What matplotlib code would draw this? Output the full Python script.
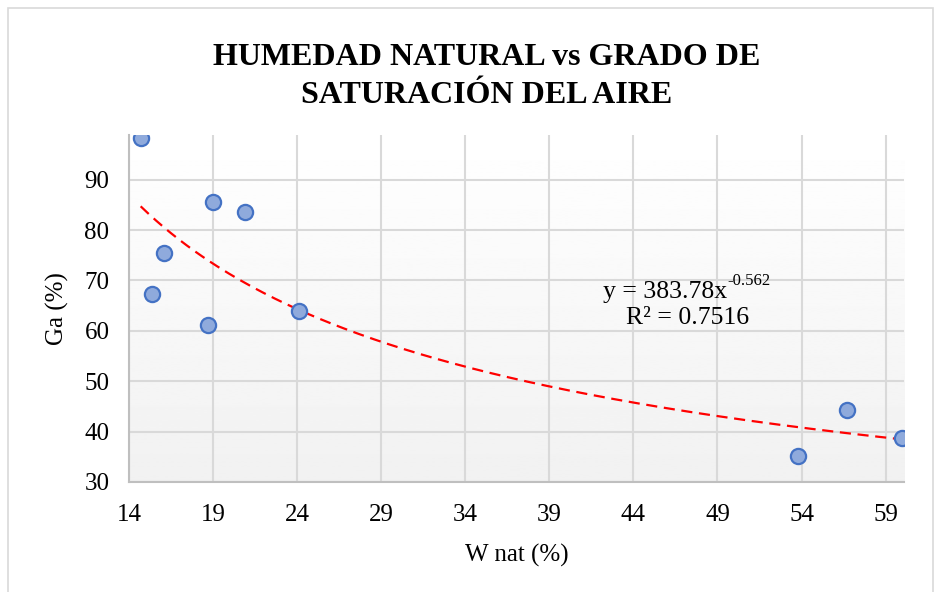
import numpy as np
import matplotlib.pyplot as plt
from matplotlib.patches import Rectangle

plt.rcParams['font.family'] = ['Liberation Serif', 'DejaVu Serif']

# data
w_nat = [14.7, 15.4, 16.1, 18.7, 19.0, 20.9, 24.1, 53.8, 56.7, 60.0]
ga = [98.3, 67.3, 75.4, 61.2, 85.6, 83.6, 63.9, 35.2, 44.3, 38.7]

# power trendline shown in the chart
coef_a = 383.78
coef_b = -0.562
r2 = 0.7516

x_ticks = [14, 19, 24, 29, 34, 39, 44, 49, 54, 59]
y_ticks = [30, 40, 50, 60, 70, 80, 90]

fig = plt.figure(figsize=(9.34, 5.92), dpi=100)
ax = fig.add_axes([0.138, 0.186, 0.830, 0.586])

# chart border
fig.patches.append(Rectangle((0.009, -0.01), 0.99, 0.997, transform=fig.transFigure,
                             fill=False, edgecolor='#d9d9d9', linewidth=1.2))

xmin, xmax = 14, 60.1
ymin, ymax = 30, 98.9

# gradient background of the plot area
grad = np.linspace(1.0, 0.945, 256).reshape(-1, 1)
ax.imshow(grad, cmap='gray', vmin=0, vmax=1, aspect='auto',
          extent=[xmin, xmax, ymin, ymax], origin='upper', zorder=0)

ax.set_xlim(xmin, xmax)
ax.set_ylim(ymin, ymax)
ax.set_xticks(x_ticks)
ax.set_yticks(y_ticks)
ax.grid(True, color='#d9d9d9', linewidth=1.5, zorder=1)
ax.set_axisbelow(True)

for s in ['top', 'right']:
    ax.spines[s].set_visible(False)
for s in ['left', 'bottom']:
    ax.spines[s].set_color('#bfbfbf')
    ax.spines[s].set_linewidth(1.5)
ax.tick_params(axis='y', length=0, labelsize=18, pad=14)
ax.tick_params(axis='x', length=0, labelsize=18, pad=16)

xs = np.linspace(min(w_nat), max(w_nat), 200)
ax.plot(xs, coef_a * xs ** coef_b, color='#ff0000', linestyle=(0, (5, 3)),
        linewidth=1.6, zorder=3)

ax.scatter(w_nat, ga, s=120, facecolor='#8faadc', edgecolor='#4472c4',
           linewidth=1.6, zorder=4)

# trendline label
eq = ax.text(49.6, 67.7, 'y = %.2fx' % coef_a, fontsize=18.5,
             ha='right', va='center', zorder=5)
ax.annotate('%.3f' % coef_b, xy=(1.0, 0.62), xycoords=eq, fontsize=12,
            ha='left', va='bottom', zorder=5)
ax.text(47.2, 62.5, 'R² = %.4f' % r2, fontsize=18.5, ha='center', va='center', zorder=5)

ax.set_xlabel('W nat (%)', fontsize=18, labelpad=13)
ax.set_ylabel('Ga (%)', fontsize=18, labelpad=11)

fig.text(0.521, 0.871, 'HUMEDAD NATURAL vs GRADO DE\nSATURACIÓN DEL AIRE',
         ha='center', va='center', fontsize=23, fontweight='bold', linespacing=1.4)

fig.savefig('out.png', dpi=100, facecolor='white')
